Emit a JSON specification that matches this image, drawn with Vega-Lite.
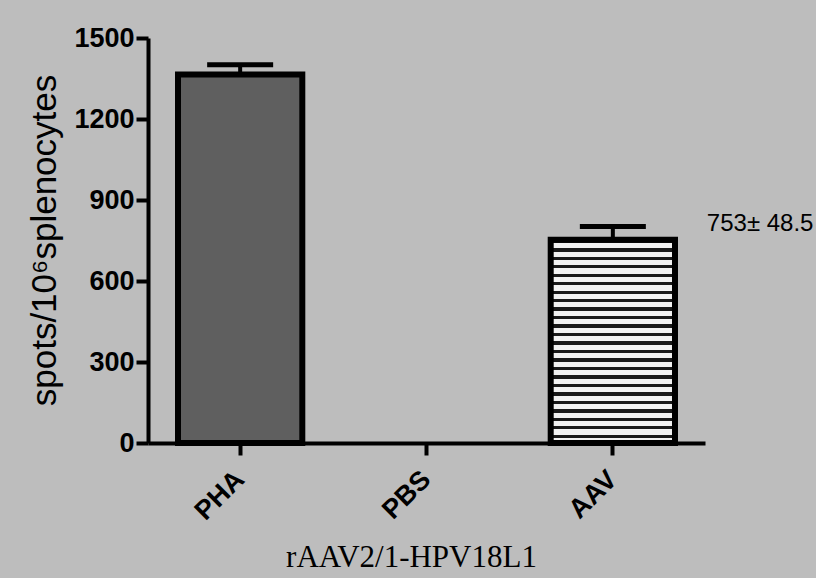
{
  "$schema": "https://vega.github.io/schema/vega-lite/v6.json",
  "width": 557,
  "height": 405,
  "autosize": "none",
  "padding": {"left": 148, "top": 38, "right": 111, "bottom": 135},
  "background": "#bdbdbd",
  "config": {
    "view": {"stroke": null},
    "font": "Liberation Sans",
    "axis": {
      "domainColor": "#000000",
      "domainWidth": 4,
      "tickColor": "#000000",
      "tickWidth": 4,
      "tickSize": 12,
      "labelColor": "#000000",
      "titleColor": "#000000",
      "grid": false
    }
  },
  "data": {
    "values": [
      {"group": "PHA", "mean": 1365, "upper": 1401},
      {"group": "PBS", "mean": 0, "upper": 0},
      {"group": "AAV", "mean": 753, "upper": 801.5, "label": "753± 48.5"}
    ]
  },
  "encoding": {
    "x": {
      "field": "group",
      "type": "nominal",
      "scale": {"domain": ["PHA", "PBS", "AAV"], "paddingInner": 0.333, "paddingOuter": 0.161},
      "axis": {
        "title": "rAAV2/1-HPV18L1",
        "titleFont": "Liberation Serif",
        "titleFontSize": 31,
        "titleFontWeight": "normal",
        "titleX": 263,
        "titleY": 114,
        "titleBaseline": "middle",
        "titleAlign": "center",
        "labelAngle": -45,
        "labelAlign": "right",
        "labelBaseline": "middle",
        "labelFontSize": 27,
        "labelFontWeight": "bold",
        "labelPadding": 20
      }
    }
  },
  "layer": [
    {
      "transform": [{"filter": "datum.group !== 'PBS'"}],
      "mark": {"type": "rule", "color": "#000000", "strokeWidth": 4},
      "encoding": {
        "y": {"field": "mean", "type": "quantitative"},
        "y2": {"field": "upper"}
      }
    },
    {
      "transform": [{"filter": "datum.group !== 'PBS'"}],
      "mark": {"type": "tick", "color": "#000000", "size": 66, "thickness": 5, "opacity": 1},
      "encoding": {
        "y": {"field": "upper", "type": "quantitative"}
      }
    },
    {
      "transform": [{"filter": "datum.group === 'PHA'"}],
      "mark": {"type": "bar", "fill": "#5f5f5f", "stroke": "#000000", "strokeWidth": 6, "strokeJoin": "miter"},
      "encoding": {
        "y": {
          "field": "mean",
          "type": "quantitative",
          "scale": {"domain": [0, 1500], "nice": false},
          "axis": {
            "values": [0, 300, 600, 900, 1200, 1500],
            "format": "d",
            "title": "spots/10⁶splenocytes",
            "titleFontSize": 35,
            "titleFontWeight": "normal",
            "titleAngle": -90,
            "titleX": -104,
            "titleY": 202,
            "titleAlign": "center",
            "titleBaseline": "middle",
            "labelFontSize": 27,
            "labelFontWeight": "bold",
            "labelPadding": 2
          }
        }
      }
    },
    {
      "transform": [{"filter": "datum.group === 'AAV'"}],
      "mark": {
        "type": "bar",
        "stroke": "#000000",
        "strokeWidth": 6,
        "strokeJoin": "miter",
        "fill": {
          "gradient": "linear",
          "x1": 0, "y1": 0, "x2": 0, "y2": 1,
          "stops": [
            {"offset": 0, "color": "#1a1a1a"}, {"offset": 0.0167, "color": "#1a1a1a"}, {"offset": 0.0167, "color": "#f2f2f2"}, {"offset": 0.0417, "color": "#f2f2f2"},
            {"offset": 0.0417, "color": "#1a1a1a"}, {"offset": 0.0583, "color": "#1a1a1a"}, {"offset": 0.0583, "color": "#f2f2f2"}, {"offset": 0.0833, "color": "#f2f2f2"},
            {"offset": 0.0833, "color": "#1a1a1a"}, {"offset": 0.1, "color": "#1a1a1a"}, {"offset": 0.1, "color": "#f2f2f2"}, {"offset": 0.125, "color": "#f2f2f2"},
            {"offset": 0.125, "color": "#1a1a1a"}, {"offset": 0.1417, "color": "#1a1a1a"}, {"offset": 0.1417, "color": "#f2f2f2"}, {"offset": 0.1667, "color": "#f2f2f2"},
            {"offset": 0.1667, "color": "#1a1a1a"}, {"offset": 0.1833, "color": "#1a1a1a"}, {"offset": 0.1833, "color": "#f2f2f2"}, {"offset": 0.2083, "color": "#f2f2f2"},
            {"offset": 0.2083, "color": "#1a1a1a"}, {"offset": 0.225, "color": "#1a1a1a"}, {"offset": 0.225, "color": "#f2f2f2"}, {"offset": 0.25, "color": "#f2f2f2"},
            {"offset": 0.25, "color": "#1a1a1a"}, {"offset": 0.2667, "color": "#1a1a1a"}, {"offset": 0.2667, "color": "#f2f2f2"}, {"offset": 0.2917, "color": "#f2f2f2"},
            {"offset": 0.2917, "color": "#1a1a1a"}, {"offset": 0.3083, "color": "#1a1a1a"}, {"offset": 0.3083, "color": "#f2f2f2"}, {"offset": 0.3333, "color": "#f2f2f2"},
            {"offset": 0.3333, "color": "#1a1a1a"}, {"offset": 0.35, "color": "#1a1a1a"}, {"offset": 0.35, "color": "#f2f2f2"}, {"offset": 0.375, "color": "#f2f2f2"},
            {"offset": 0.375, "color": "#1a1a1a"}, {"offset": 0.3917, "color": "#1a1a1a"}, {"offset": 0.3917, "color": "#f2f2f2"}, {"offset": 0.4167, "color": "#f2f2f2"},
            {"offset": 0.4167, "color": "#1a1a1a"}, {"offset": 0.4333, "color": "#1a1a1a"}, {"offset": 0.4333, "color": "#f2f2f2"}, {"offset": 0.4583, "color": "#f2f2f2"},
            {"offset": 0.4583, "color": "#1a1a1a"}, {"offset": 0.475, "color": "#1a1a1a"}, {"offset": 0.475, "color": "#f2f2f2"}, {"offset": 0.5, "color": "#f2f2f2"},
            {"offset": 0.5, "color": "#1a1a1a"}, {"offset": 0.5167, "color": "#1a1a1a"}, {"offset": 0.5167, "color": "#f2f2f2"}, {"offset": 0.5417, "color": "#f2f2f2"},
            {"offset": 0.5417, "color": "#1a1a1a"}, {"offset": 0.5583, "color": "#1a1a1a"}, {"offset": 0.5583, "color": "#f2f2f2"}, {"offset": 0.5833, "color": "#f2f2f2"},
            {"offset": 0.5833, "color": "#1a1a1a"}, {"offset": 0.6, "color": "#1a1a1a"}, {"offset": 0.6, "color": "#f2f2f2"}, {"offset": 0.625, "color": "#f2f2f2"},
            {"offset": 0.625, "color": "#1a1a1a"}, {"offset": 0.6417, "color": "#1a1a1a"}, {"offset": 0.6417, "color": "#f2f2f2"}, {"offset": 0.6667, "color": "#f2f2f2"},
            {"offset": 0.6667, "color": "#1a1a1a"}, {"offset": 0.6833, "color": "#1a1a1a"}, {"offset": 0.6833, "color": "#f2f2f2"}, {"offset": 0.7083, "color": "#f2f2f2"},
            {"offset": 0.7083, "color": "#1a1a1a"}, {"offset": 0.725, "color": "#1a1a1a"}, {"offset": 0.725, "color": "#f2f2f2"}, {"offset": 0.75, "color": "#f2f2f2"},
            {"offset": 0.75, "color": "#1a1a1a"}, {"offset": 0.7667, "color": "#1a1a1a"}, {"offset": 0.7667, "color": "#f2f2f2"}, {"offset": 0.7917, "color": "#f2f2f2"},
            {"offset": 0.7917, "color": "#1a1a1a"}, {"offset": 0.8083, "color": "#1a1a1a"}, {"offset": 0.8083, "color": "#f2f2f2"}, {"offset": 0.8333, "color": "#f2f2f2"},
            {"offset": 0.8333, "color": "#1a1a1a"}, {"offset": 0.85, "color": "#1a1a1a"}, {"offset": 0.85, "color": "#f2f2f2"}, {"offset": 0.875, "color": "#f2f2f2"},
            {"offset": 0.875, "color": "#1a1a1a"}, {"offset": 0.8917, "color": "#1a1a1a"}, {"offset": 0.8917, "color": "#f2f2f2"}, {"offset": 0.9167, "color": "#f2f2f2"},
            {"offset": 0.9167, "color": "#1a1a1a"}, {"offset": 0.9333, "color": "#1a1a1a"}, {"offset": 0.9333, "color": "#f2f2f2"}, {"offset": 0.9583, "color": "#f2f2f2"},
            {"offset": 0.9583, "color": "#1a1a1a"}, {"offset": 0.975, "color": "#1a1a1a"}, {"offset": 0.975, "color": "#f2f2f2"}, {"offset": 1, "color": "#f2f2f2"}
          ]
        }
      },
      "encoding": {
        "y": {"field": "mean", "type": "quantitative"}
      }
    },
    {
      "transform": [{"filter": "isValid(datum.label)"}],
      "mark": {"type": "text", "align": "left", "baseline": "middle", "dx": 94, "dy": -3, "fontSize": 24, "color": "#000000", "font": "Liberation Sans"},
      "encoding": {
        "y": {"field": "upper", "type": "quantitative"},
        "text": {"field": "label"}
      }
    }
  ]
}
